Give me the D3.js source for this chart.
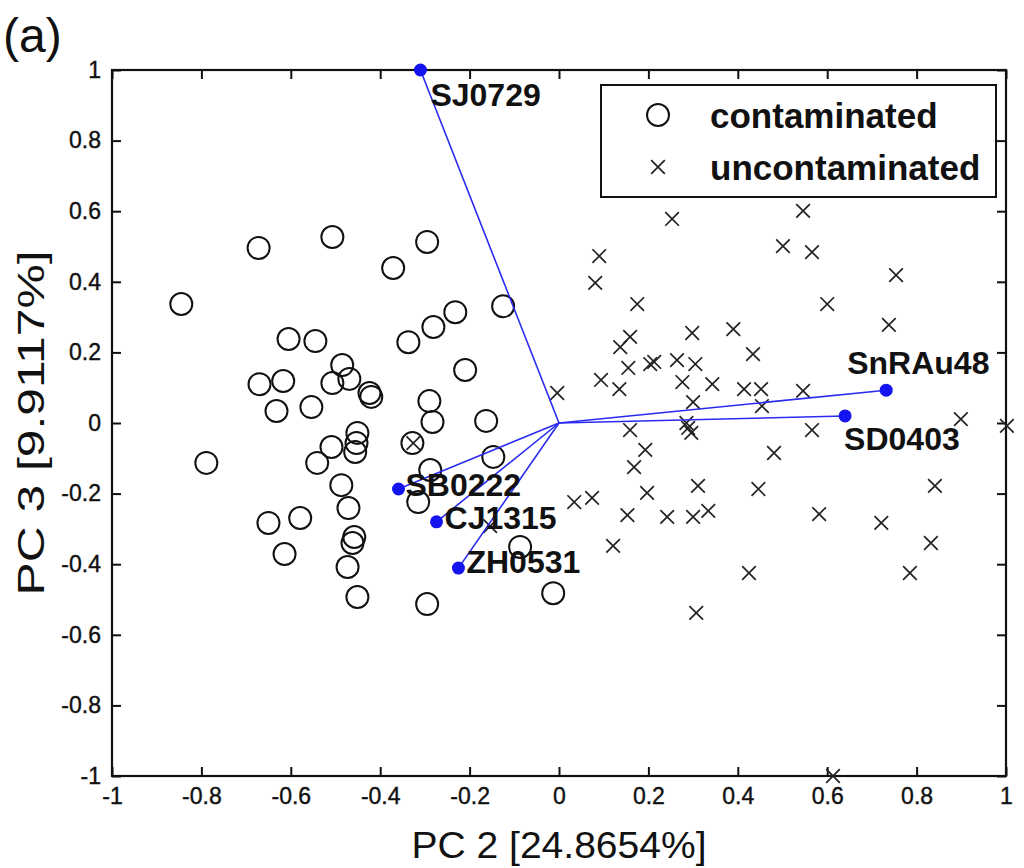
<!DOCTYPE html>
<html>
<head>
<meta charset="utf-8">
<script src="https://cdn.jsdelivr.net/npm/d3@7"></script>
<style>
  body { margin: 0; background: #fff; }
  svg { display: block; font-family: Arial, "Liberation Sans", sans-serif; }
</style>
</head>
<body>
<div id="chart"></div>
<script>
// contaminated samples (circles)
const contaminatedX = [-0.845, -0.789, -0.672, -0.507, -0.605, -0.545, -0.485, -0.469, -0.507, -0.670,
  -0.617, -0.424, -0.420, -0.632, -0.554, -0.295, -0.371, -0.232, -0.281, -0.337,
  -0.125, -0.210, -0.290, -0.283, -0.163, -0.451, -0.453, -0.456, -0.509, -0.541,
  -0.328, -0.147, -0.288, -0.315, -0.487, -0.471, -0.650, -0.579, -0.458, -0.462,
  -0.614, -0.473, -0.451, -0.295, -0.087, -0.013]
const contaminatedY = [0.337, -0.113, 0.496, 0.527, 0.238, 0.232, 0.164, 0.125, 0.113, 0.110,
  0.119, 0.085, 0.074, 0.034, 0.045, 0.513, 0.439, 0.314, 0.272, 0.229,
  0.331, 0.150, 0.062, 0.003, 0.006, -0.028, -0.057, -0.082, -0.068, -0.113,
  -0.057, -0.096, -0.133, -0.224, -0.176, -0.241, -0.283, -0.269, -0.323, -0.340,
  -0.371, -0.408, -0.493, -0.513, -0.351, -0.482]

// uncontaminated samples (crosses)
const uncontaminatedX = [0.253, 0.090, 0.081, 0.175, 0.159, 0.137, 0.298, 0.390, 0.434, 0.155,
  0.204, 0.213, 0.264, 0.305, 0.094, 0.135, 0.276, 0.343, 0.300, 0.414,
  0.452, 0.454, 0.546, -0.004, 0.159, 0.285, 0.289, 0.296, 0.193, 0.168,
  0.566, 0.481, 0.311, 0.446, 0.197, 0.034, 0.074, 0.153, 0.242, 0.300,
  0.334, 0.582, 0.121, 0.425, 0.307, 0.721, 0.841, 0.832, 0.785, 0.899,
  1.002, 0.501, 0.566, 0.546, 0.754, 0.600, 0.738, 0.613, -0.326, -0.154]
const uncontaminatedY = [0.578, 0.473, 0.397, 0.337, 0.244, 0.215, 0.255, 0.266, 0.195, 0.156,
  0.167, 0.173, 0.178, 0.167, 0.122, 0.096, 0.116, 0.110, 0.059, 0.096,
  0.096, 0.048, 0.091, 0.085, -0.020, 0.000, -0.014, -0.028, -0.076, -0.125,
  -0.020, -0.085, -0.178, -0.187, -0.198, -0.224, -0.212, -0.261, -0.266, -0.266,
  -0.249, -0.258, -0.348, -0.425, -0.538, -0.283, -0.178, -0.340, -0.425, 0.011,
  -0.008, 0.501, 0.484, 0.601, 0.419, 0.337, 0.278, -1.000, -0.057, -0.292]

// loading vectors
const loadingNames = ["SJ0729", "SnRAu48", "SD0403", "SB0222", "CJ1315", "ZH0531"]
const loadingX = [-0.310, 0.732, 0.640, -0.359, -0.274, -0.225]
const loadingY = [1.000, 0.093, 0.020, -0.187, -0.280, -0.411]
// label offsets in px from the vector tip
const labelDx = [10, -39, -1, 7, 8, 8]
const labelDy = [36, -16, 34, 7, 7, 5]

const tickValues = [-1, -0.8, -0.6, -0.4, -0.2, 0, 0.2, 0.4, 0.6, 0.8, 1]
const tickLabels = ["-1", "-0.8", "-0.6", "-0.4", "-0.2", "0", "0.2", "0.4", "0.6", "0.8", "1"]

const legendNames = ["contaminated", "uncontaminated"]

function drawCross(g, cx, cy, s) {
  g.append("path")
    .attr("d", `M${cx - s},${cy - s}L${cx + s},${cy + s}M${cx - s},${cy + s}L${cx + s},${cy - s}`)
    .attr("stroke", "#222")
    .attr("stroke-width", 1.7)
    .attr("fill", "none")
}

function createChart() {
  const width = 1024,
    height = 868,
    margin = { top: 70, right: 18, bottom: 92, left: 112 }

  const svg = d3.select("#chart").append("svg")
    .attr("width", width)
    .attr("height", height)

  const x = d3.scaleLinear().domain([-1, 1]).range([margin.left, width - margin.right])
  const y = d3.scaleLinear().domain([-1, 1]).range([height - margin.bottom, margin.top])
  const fmt = d => tickLabels[tickValues.indexOf(d)]

  // axes, ticks pointing inward
  const axisFont = g => g.attr("font-family", "Arial, 'Liberation Sans', sans-serif")
    .selectAll("text").attr("font-size", 23).attr("fill", "#111")
    .attr("stroke", "#111").attr("stroke-width", 0.4)
  svg.append("g")
    .attr("transform", `translate(0,${y(-1)})`)
    .call(d3.axisBottom(x).tickValues(tickValues).tickFormat(fmt).tickSizeInner(-9).tickSizeOuter(0).tickPadding(12))
    .call(axisFont)
  svg.append("g")
    .attr("transform", `translate(${x(-1)},0)`)
    .call(d3.axisLeft(y).tickValues(tickValues).tickFormat(fmt).tickSizeInner(-9).tickSizeOuter(0).tickPadding(11))
    .call(axisFont)
  svg.append("g")
    .attr("transform", `translate(0,${y(1)})`)
    .call(d3.axisTop(x).tickValues(tickValues).tickFormat("").tickSizeInner(-9).tickSizeOuter(0))
  svg.append("g")
    .attr("transform", `translate(${x(1)},0)`)
    .call(d3.axisRight(y).tickValues(tickValues).tickFormat("").tickSizeInner(-9).tickSizeOuter(0))
  svg.selectAll(".domain").remove()
  svg.selectAll(".tick line").attr("stroke", "#111").attr("stroke-width", 2)

  svg.append("rect")
    .attr("x", x(-1)).attr("y", y(1))
    .attr("width", x(1) - x(-1)).attr("height", y(-1) - y(1))
    .attr("fill", "none").attr("stroke", "#111").attr("stroke-width", 2.2)

  // points
  const pts = svg.append("g")
  contaminatedX.forEach((v, i) => {
    pts.append("circle")
      .attr("cx", x(v)).attr("cy", y(contaminatedY[i]))
      .attr("r", 11)
      .attr("fill", "none").attr("stroke", "#111").attr("stroke-width", 2)
  })
  uncontaminatedX.forEach((v, i) => {
    drawCross(pts, x(v), y(uncontaminatedY[i]), 6.8)
  })

  // loading vectors
  const vec = svg.append("g")
  loadingNames.forEach((name, i) => {
    vec.append("line")
      .attr("x1", x(0)).attr("y1", y(0))
      .attr("x2", x(loadingX[i])).attr("y2", y(loadingY[i]))
      .attr("stroke", "#2a2af0").attr("stroke-width", 1.6)
    vec.append("circle")
      .attr("cx", x(loadingX[i])).attr("cy", y(loadingY[i]))
      .attr("r", 6.5).attr("fill", "#1414f0")
  })
  loadingNames.forEach((name, i) => {
    vec.append("text")
      .attr("x", x(loadingX[i]) + labelDx[i])
      .attr("y", y(loadingY[i]) + labelDy[i])
      .attr("font-size", 32).attr("font-weight", "bold").attr("fill", "#111")
      .text(name)
  })

  // legend
  const lg = svg.append("g")
  lg.append("rect")
    .attr("x", 601).attr("y", 85).attr("width", 395).attr("height", 112)
    .attr("fill", "#fff").attr("stroke", "#111").attr("stroke-width", 2)
  lg.append("circle").attr("cx", 658).attr("cy", 115).attr("r", 11)
    .attr("fill", "none").attr("stroke", "#111").attr("stroke-width", 2)
  drawCross(lg, 658, 167, 6.8)
  legendNames.forEach((name, i) => {
    lg.append("text")
      .attr("x", 710).attr("y", 128 + i * 52)
      .attr("font-size", 35).attr("font-weight", "bold").attr("fill", "#111")
      .text(name)
  })

  // axis titles
  svg.append("text")
    .attr("x", x(0)).attr("y", 858)
    .attr("text-anchor", "middle").attr("font-size", 37).attr("fill", "#111")
    .attr("textLength", 295).attr("lengthAdjust", "spacingAndGlyphs")
    .text("PC 2 [24.8654%]")
  svg.append("text")
    .attr("transform", `translate(44,${y(0)}) rotate(-90)`)
    .attr("text-anchor", "middle").attr("font-size", 37).attr("fill", "#111")
    .attr("textLength", 345).attr("lengthAdjust", "spacingAndGlyphs")
    .text("PC 3 [9.9117%]")

  svg.append("text")
    .attr("x", 3).attr("y", 52)
    .attr("font-size", 48).attr("fill", "#111")
    .text("(a)")
}

createChart()
</script>
</body>
</html>
